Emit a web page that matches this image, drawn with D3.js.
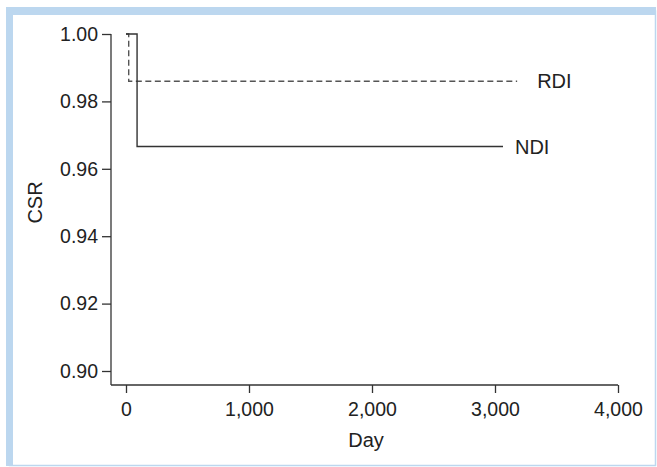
<!DOCTYPE html>
<html>
<head>
<meta charset="utf-8">
<script src="https://cdn.jsdelivr.net/npm/d3@7"></script>
<style>
  body { margin: 0; background: #fff; }
  svg text { font-family: "Liberation Sans", Arial, sans-serif; fill: #222; }
</style>
</head>
<body>
<div id="Chart"></div>
<script>
// step curves (day, cumulative survival rate)
const rdiDays = [0, 22, 3180];
const rdiCsr  = [1.0, 0.986, 0.986];
const ndiDays = [0, 90, 3065];
const ndiCsr  = [1.0, 0.9666, 0.9666];
const xTicks = [0, 1000, 2000, 3000, 4000];
const yTicks = [0.90, 0.92, 0.94, 0.96, 0.98, 1.00];
const seriesNames = ["RDI", "NDI"];

const W = 657, H = 467;
const svg = d3.select("#Chart").append("svg")
  .attr("width", W).attr("height", H);

// light blue frame
svg.append("rect")
  .attr("x", 9.5).attr("y", 11).attr("width", 646).attr("height", 454.5)
  .attr("fill", "none").attr("stroke", "#bcd7ef").attr("stroke-width", 1.5);
svg.append("rect").attr("x", 6).attr("y", 7).attr("width", 7).attr("height", 459).attr("fill", "#bcd7ef");
svg.append("rect").attr("x", 6).attr("y", 7).attr("width", 650).attr("height", 8).attr("fill", "#bcd7ef");

const xScale = d3.scaleLinear().domain([0, 4000]).range([126, 618]);
const yScale = d3.scaleLinear().domain([0.90, 1.00]).range([371, 34]);
const axisX0 = 111, axisY0 = 385;

const fmtX = d3.format(",");
const xAxisG = svg.append("g").attr("transform", `translate(0,${axisY0})`)
  .call(d3.axisBottom(xScale).tickValues(xTicks).tickFormat(fmtX).tickSize(8).tickPadding(9));
xAxisG.select(".domain").remove();
xAxisG.append("line")
  .attr("x1", axisX0).attr("x2", xScale(4000))
  .attr("stroke", "#333").attr("stroke-width", 1.3);

const yAxisG = svg.append("g").attr("transform", `translate(${axisX0},0)`)
  .call(d3.axisLeft(yScale).tickValues(yTicks).tickFormat(d3.format(".2f")).tickSize(9).tickPadding(4));
yAxisG.select(".domain").remove();
yAxisG.append("line")
  .attr("y1", yScale(1.0)).attr("y2", axisY0)
  .attr("stroke", "#333").attr("stroke-width", 1.3);

svg.selectAll(".tick line").attr("stroke", "#333").attr("stroke-width", 1.3);
svg.selectAll(".tick text").attr("font-size", 19.5).attr("fill", "#222");

svg.append("text")
  .attr("x", xScale(2000) - 6).attr("y", 447)
  .attr("text-anchor", "middle").attr("font-size", 20)
  .text("Day");
svg.append("text")
  .attr("transform", `translate(42,${yScale(0.95)}) rotate(-90)`)
  .attr("text-anchor", "middle").attr("font-size", 20)
  .text("CSR");

const line = d3.line()
  .x(d => xScale(d[0])).y(d => yScale(d[1]))
  .curve(d3.curveStepAfter);

const rdi = rdiDays.map((d, i) => [d, rdiCsr[i]]);
const ndi = ndiDays.map((d, i) => [d, ndiCsr[i]]);

svg.append("path").datum(rdi)
  .attr("d", line).attr("fill", "none")
  .attr("stroke", "#555").attr("stroke-width", 1.4)
  .attr("stroke-dasharray", "6,3.5");
svg.append("path").datum(ndi)
  .attr("d", line).attr("fill", "none")
  .attr("stroke", "#333").attr("stroke-width", 1.4);

svg.append("text")
  .attr("x", xScale(rdiDays[2]) + 20).attr("y", yScale(rdiCsr[2]) + 7)
  .attr("font-size", 20).text(seriesNames[0]);
svg.append("text")
  .attr("x", xScale(ndiDays[2]) + 12).attr("y", yScale(ndiCsr[2]) + 7)
  .attr("font-size", 20).text(seriesNames[1]);
</script>
</body>
</html>
